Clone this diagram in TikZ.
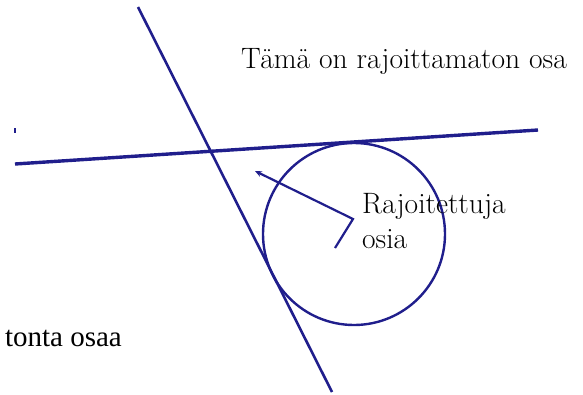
\documentclass[tikz,border=0pt]{standalone}
\usepackage{fontspec}
\newfontfamily\timesfont{Liberation Serif}
\usepackage{tikz}
\usetikzlibrary{arrows.meta, positioning}

\definecolor{inkblue}{RGB}{32,30,140}

\begin{document}
\begin{tikzpicture}[
  x=1pt, y=-1pt,
  line/.style  = {draw=inkblue, line width=2.6pt},
  hline/.style = {draw=inkblue, line width=3.4pt},
  arr/.style   = {draw=inkblue, line width=2.2pt, -{Stealth[length=7pt,width=6pt]}},
  lbl/.style   = {font=\fontsize{29.5}{35}\selectfont, text=black, inner sep=0pt},
]
\useasboundingbox (0,0) rectangle (583,394);

%% ── Lines ──────────────────────────────────────────────────────────────────
\coordinate (steepTop) at (138,7);
\coordinate (steepBot) at (332,392);
\coordinate (flatL)    at (15,164);
\coordinate (flatR)    at (538,130);

\draw[line]  (steepTop) -- (steepBot);
\draw[hline] (flatL) -- (flatR);
\draw[inkblue, line width=1.5pt] (15,128) -- (15,133);

%% ── Circle (tangent to both lines) ─────────────────────────────────────────
\node[circle, draw=inkblue, line width=2.4pt, minimum size=182pt, inner sep=0pt]
  (disc) at (354,234) {};

%% ── Labels ─────────────────────────────────────────────────────────────────
\node[lbl, anchor=base west] (free) at (241,68) {Tämä on rajoittamaton osa};
\node[lbl, anchor=base west] (raj)  at (362,213) {Rajoitettuja};
\node[lbl, anchor=base west] (osia) at ([yshift=-35pt]raj.base west) {osia};
\node[lbl, font=\timesfont\fontsize{29}{34}\selectfont, anchor=base east]
  (rest) at (122,346) {tonta osaa};

%% ── Pointer ────────────────────────────────────────────────────────────────
\coordinate (ptrTail) at (335,248);
\coordinate (ptrBend) at (353,219);
\coordinate (ptrHead) at (255,171);
\draw[arr] (ptrTail) -- (ptrBend) -- (ptrHead);

\end{tikzpicture}
\end{document}
